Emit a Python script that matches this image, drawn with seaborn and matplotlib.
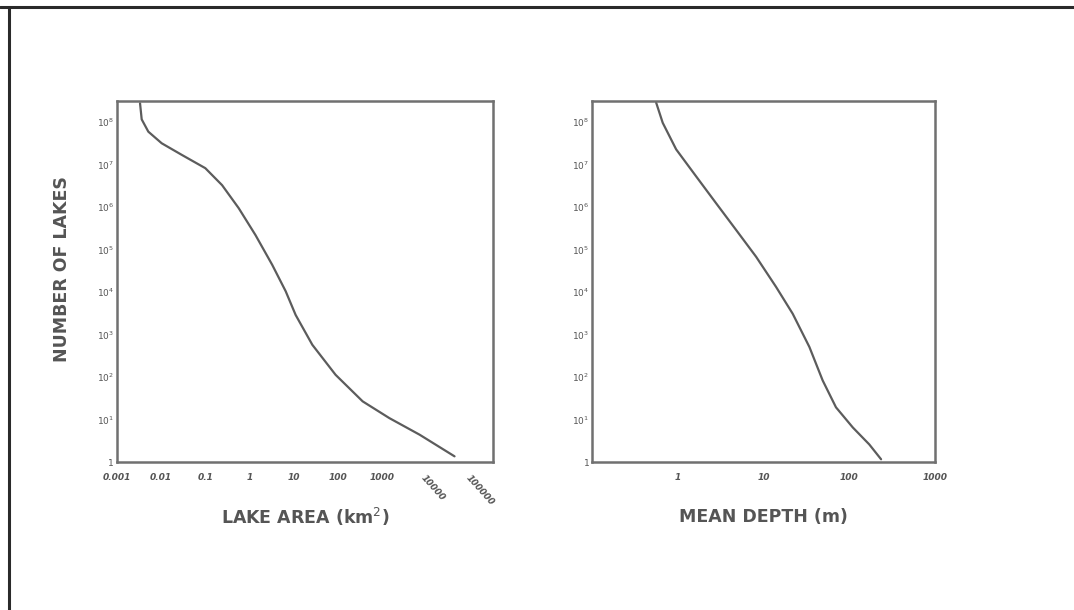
import numpy as np
import pandas as pd
import matplotlib.pyplot as plt
from matplotlib.lines import Line2D
import seaborn as sns

# values (log-log curves)
lake_area_km2 = [0.00333, 0.00363, 0.00513, 0.0103, 0.0295, 0.1, 0.24, 0.57, 1.37,
                 3.27, 6.6, 11.1, 26.5, 89, 365, 1470, 7100, 43900]
lakes_by_area = [2.8e8, 1.17e8, 6.0e7, 3.2e7, 1.7e7, 8.3e6, 3.3e6, 9.5e5, 2.2e5,
                 4.4e4, 1.05e4, 2.9e3, 575, 113, 26.8, 10.8, 4.4, 1.36]

mean_depth_m = [0.56, 0.668, 0.958, 1.64, 2.8, 4.8, 8.2, 14.0, 21.9, 34.3, 49, 70,
                110, 171, 235]
lakes_by_depth = [2.9e8, 9.7e7, 2.3e7, 5.3e6, 1.24e6, 2.9e5, 6.8e4, 1.33e4, 3.1e3,
                  510, 83, 19.4, 6.5, 2.6, 1.16]

y_ticks = [1, 1e1, 1e2, 1e3, 1e4, 1e5, 1e6, 1e7, 1e8]
y_ticklabels = ["1"] + [r"$10^{%d}$" % i for i in range(1, 9)]
area_ticks = [1e-3, 1e-2, 1e-1, 1, 10, 100, 1000, 1e4, 1e5]
area_ticklabels = ["0.001", "0.01", "0.1", "1", "10", "100", "1000", "10000", "100000"]
depth_ticks = [1, 10, 100, 1000]
depth_ticklabels = ["1", "10", "100", "1000"]

area_df = pd.DataFrame({"area": lake_area_km2, "n": lakes_by_area})
depth_df = pd.DataFrame({"depth": mean_depth_m, "n": lakes_by_depth})

sns.set_style("white")
plt.rcParams["font.family"] = ["DejaVu Sans"]

frame_col = "#707070"
line_col = "#5c5c5c"
text_col = "#555555"

fig = plt.figure(figsize=(10.74, 6.10), dpi=100)
ax1 = fig.add_axes([0.1089, 0.2426, 0.350, 0.5918])
ax2 = fig.add_axes([0.5512, 0.2426, 0.3194, 0.5918])

sns.lineplot(data=area_df, x="area", y="n", ax=ax1, color=line_col, linewidth=1.6,
             estimator=None)
sns.lineplot(data=depth_df, x="depth", y="n", ax=ax2, color=line_col, linewidth=1.6,
             estimator=None)

for ax in (ax1, ax2):
    ax.set_xscale("log")
    ax.set_yscale("log")
    ax.set_ylim(1, 10 ** 8.5)
    ax.set_yticks(y_ticks)
    ax.set_yticklabels(y_ticklabels, fontsize=6.5, color=text_col)
    ax.minorticks_off()
    ax.tick_params(direction="in", length=4, width=1, color=frame_col)
    ax.tick_params(axis="y", pad=2)
    ax.tick_params(axis="x", pad=8)
    for s in ax.spines.values():
        s.set_color(frame_col)
        s.set_linewidth(1.8)
    ax.set_xlabel("")
    ax.set_ylabel("")

# left panel: lake area
ax1.set_xlim(1e-3, 10 ** 5.51)
ax1.set_xticks(area_ticks)
ax1.set_xticklabels(area_ticklabels, fontsize=6.5, color=text_col, style="italic",
                    fontweight="bold")
for lab in ax1.get_xticklabels()[-2:]:
    lab.set_rotation(-48)
    lab.set_ha("left")
    lab.set_va("top")
    lab.set_rotation_mode("anchor")
ax1.set_xlabel("LAKE AREA (km$^{2}$)", fontsize=12.5, fontweight="bold", color=text_col)
ax1.xaxis.set_label_coords(0.5, -0.152)
ax1.xaxis.label.set_va("center")
ax1.set_ylabel("NUMBER OF LAKES", fontsize=12.5, fontweight="bold", color=text_col)
ax1.yaxis.set_label_coords(-0.146, 0.535)
ax1.yaxis.label.set_va("center")

# right panel: mean depth
ax2.set_xlim(0.1, 1000)
ax2.set_xticks(depth_ticks)
ax2.set_xticklabels(depth_ticklabels, fontsize=6.5, color=text_col, style="italic",
                    fontweight="bold")
ax2.set_xlabel("MEAN DEPTH (m)", fontsize=12.5, fontweight="bold", color=text_col)
ax2.xaxis.set_label_coords(0.5, -0.152)
ax2.xaxis.label.set_va("center")

# scanned page border (top and left edges only)
fig.add_artist(Line2D([0, 1], [1 - 6.5 / 610, 1 - 6.5 / 610], transform=fig.transFigure,
                      color="#2a2a2a", linewidth=2.2))
fig.add_artist(Line2D([8.5 / 1074, 8.5 / 1074], [0, 1 - 6.5 / 610], transform=fig.transFigure,
                      color="#2a2a2a", linewidth=2.2))

fig.savefig("out.png", dpi=100, facecolor="white")
